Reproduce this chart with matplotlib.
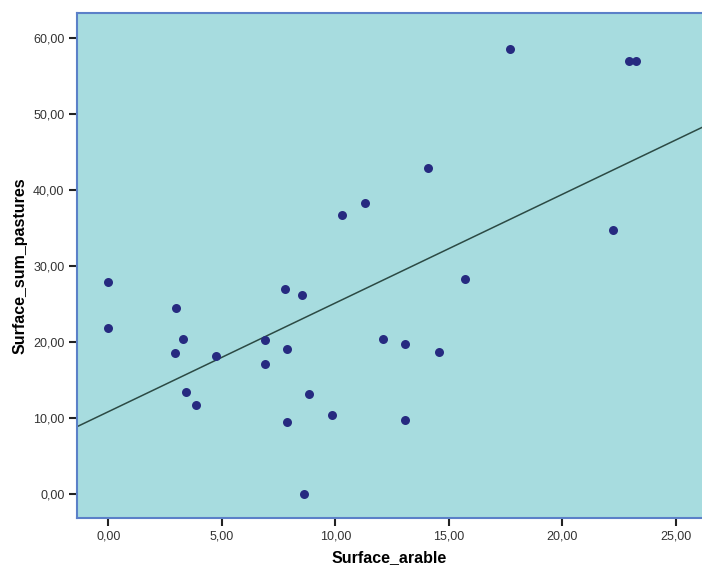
import numpy as np
import matplotlib.pyplot as plt
from matplotlib.ticker import FuncFormatter

# datos
arable = [0.0, 0.0, 3.0, 3.28, 2.94, 4.73, 3.42, 3.86, 7.76, 8.52,
          6.89, 7.86, 6.89, 8.83, 7.86, 9.87, 14.07, 11.3, 10.31, 15.71,
          12.11, 13.08, 14.57, 13.08, 17.68, 22.93, 23.25, 22.25, 8.62]
pastures = [27.9, 21.8, 24.5, 20.4, 18.55, 18.2, 13.4, 11.7, 27.0, 26.2,
            20.2, 19.0, 17.1, 13.2, 9.4, 10.4, 42.9, 38.3, 36.7, 28.2,
            20.4, 19.7, 18.7, 9.7, 58.55, 56.9, 56.9, 34.7, 0.0]
xticks = [0, 5, 10, 15, 20, 25]
yticks = [0, 10, 20, 30, 40, 50, 60]

plt.rcParams['font.family'] = ['Liberation Sans', 'DejaVu Sans']

fig = plt.figure(figsize=(7.02, 5.69), dpi=100)
ax = fig.add_axes([0.1097, 0.0888, 0.8903, 0.8882])
ax.set_facecolor('#a7dcdf')

ax.scatter(arable, pastures, s=42, color='#262a80', zorder=3, linewidths=0)

# recta de regresion
m, b = np.polyfit(arable, pastures, 1)
xl = np.array([-2, 27])
ax.plot(xl, m*xl + b, color='#2c4a44', lw=1.1, zorder=2)

ax.set_xlim(-1.38, 26.15)
ax.set_ylim(-3.24, 63.25)
ax.set_xticks(xticks)
ax.set_yticks(yticks)
fmt = FuncFormatter(lambda v, p: f"{v:.2f}".replace('.', ','))
ax.xaxis.set_major_formatter(fmt)
ax.yaxis.set_major_formatter(fmt)
ax.tick_params(axis='both', direction='out', length=6, width=1.5,
               color='#222222', labelsize=9, labelcolor='#333333', pad=3)

for s in ['left', 'top', 'bottom']:
    ax.spines[s].set_color('#5b80c8')
    ax.spines[s].set_linewidth(1.5)
ax.spines['right'].set_visible(False)

ax.set_xlabel('Surface_arable', fontsize=11.5, fontweight='bold', labelpad=5)
ax.set_ylabel('Surface_sum_pastures', fontsize=11.5, fontweight='bold', labelpad=4)

fig.savefig('out.png', dpi=100)
